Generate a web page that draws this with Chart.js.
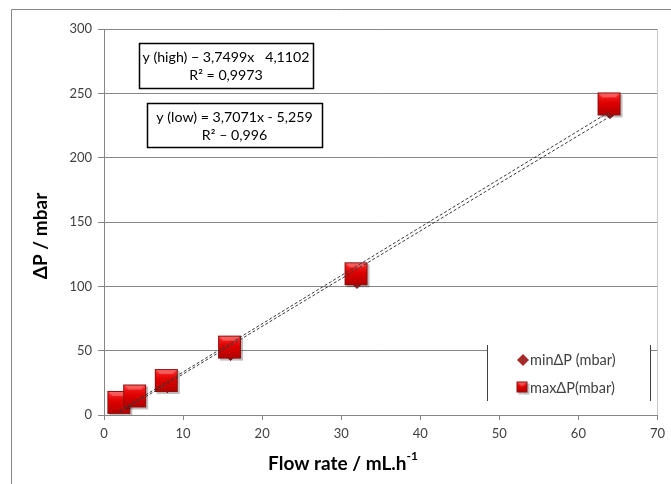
<!DOCTYPE html>
<html>
<head>
<meta charset="utf-8">
<script src="https://cdn.jsdelivr.net/npm/chart.js@4.4.1/dist/chart.umd.min.js"></script>
<style>
  html, body { margin: 0; padding: 0; background: #fff; }
  #wrap { width: 671px; height: 484px; position: relative; }
</style>
</head>
<body>
<div id="wrap"><canvas id="grafico" width="671" height="484"></canvas></div>
<script>
// datos
const caudales = [2, 4, 8, 16, 32, 64];
const minDeltaP = [7, 12, 22, 47, 103, 235];
const maxDeltaP = [9, 14, 26, 52, 109, 241];
const xTicks = [0, 10, 20, 30, 40, 50, 60, 70];
const yTicks = [0, 50, 100, 150, 200, 250, 300];

// ecuaciones de tendencia mostradas en el grafico
const tendAlta = { pendiente: 3.7499, ordenada: -4.1102 };
const tendBaja = { pendiente: 3.7071, ordenada: -5.259 };
const rangoTend = [2, 64];

const etiquetasCajas = [
  ['y (high) \u2212 3,7499x   4,1102', 'R\u00b2 = 0,9973'],
  ['y (low) = 3,7071x - 5,259', 'R\u00b2 \u2013 0,996']
];

const FUENTE = 'Lato, "Open Sans", sans-serif';
const GRIS = '#868686';
const TEXTO = '#404040';

// marcador cuadrado rojo con degradado y sombra (estilo Excel)
function crearCuadrado(lado) {
  const pad = 3;
  const c = document.createElement('canvas');
  c.width = lado + pad * 2; c.height = lado + pad * 2;
  const g = c.getContext('2d');
  const o = pad - 1;
  g.fillStyle = 'rgba(0,0,0,0.25)';
  g.fillRect(o + 2, o + 2, lado, lado);
  const grad = g.createLinearGradient(0, o, 0, o + lado);
  grad.addColorStop(0, '#ff3030');
  grad.addColorStop(0.45, '#e00000');
  grad.addColorStop(1, '#b00000');
  g.fillStyle = grad;
  g.fillRect(o, o, lado, lado);
  g.strokeStyle = '#8c1010';
  g.lineWidth = 1;
  g.strokeRect(o + 0.5, o + 0.5, lado - 1, lado - 1);
  g.fillStyle = 'rgba(255,255,255,0.25)';
  g.beginPath();
  g.moveTo(o + 1, o + 1); g.lineTo(o + lado - 1, o + 1);
  g.lineTo(o + lado - 5, o + 5); g.lineTo(o + 5, o + 5); g.closePath();
  g.fill();
  return c;
}
const cuadradoGrande = crearCuadrado(23);
const cuadradoChico = crearCuadrado(11);

function puntosTendencia(t) {
  return rangoTend.map(x => ({ x, y: t.pendiente * x + t.ordenada }));
}

const pluginDecoracion = {
  id: 'pluginDecoracion',
  beforeDraw(chart) {
    const { ctx } = chart;
    ctx.save();
    ctx.fillStyle = '#fff';
    ctx.fillRect(0, 0, chart.width, chart.height);
    ctx.strokeStyle = GRIS;
    ctx.lineWidth = 1;
    ctx.beginPath();
    ctx.moveTo(11.5, chart.height);
    ctx.lineTo(11.5, 9.5);
    ctx.lineTo(chart.width, 9.5);
    ctx.stroke();
    ctx.restore();
  },
  afterDatasetsDraw(chart) {
    const { ctx, chartArea: ca } = chart;
    ctx.save();
    // borde derecho del area
    ctx.strokeStyle = '#c8c8c8';
    ctx.beginPath();
    ctx.moveTo(Math.round(ca.right) + 0.5, ca.top);
    ctx.lineTo(Math.round(ca.right) + 0.5, ca.bottom);
    ctx.stroke();

    // cajas con ecuaciones
    const cajas = [
      { x: 139, y: 43, w: 174, h: 45 },
      { x: 147, y: 103, w: 175, h: 44 }
    ];
    ctx.font = '14.2px ' + FUENTE;
    ctx.textAlign = 'center';
    ctx.textBaseline = 'middle';
    cajas.forEach((c, i) => {
      ctx.fillStyle = '#fff';
      ctx.fillRect(c.x, c.y, c.w, c.h);
      ctx.strokeStyle = '#000';
      ctx.lineWidth = 1.5;
      ctx.strokeRect(c.x + 0.5, c.y + 0.5, c.w, c.h);
      ctx.fillStyle = '#000';
      ctx.fillText(etiquetasCajas[i][0], c.x + c.w / 2, c.y + 14);
      ctx.fillText(etiquetasCajas[i][1], c.x + c.w / 2, c.y + 32);
    });

    // leyenda
    const lx = 487, ly = 345, lw = 163, lh = 56;
    ctx.fillStyle = '#fff';
    ctx.fillRect(lx, ly, lw, lh);
    ctx.strokeStyle = '#404040';
    ctx.lineWidth = 1;
    ctx.beginPath();
    ctx.moveTo(lx + 0.5, ly); ctx.lineTo(lx + 0.5, ly + lh);
    ctx.moveTo(lx + lw + 0.5, ly); ctx.lineTo(lx + lw + 0.5, ly + lh);
    ctx.stroke();
    const series = chart.data.datasets
      .filter(d => d.enLeyenda)
      .sort((a, b) => a.ordenLeyenda - b.ordenLeyenda);
    ctx.font = '14.5px ' + FUENTE;
    ctx.textAlign = 'left';
    series.forEach((d, i) => {
      const my = 360 + i * 28;
      if (d.pointStyle === 'rectRot') {
        ctx.fillStyle = d.backgroundColor;
        ctx.beginPath();
        ctx.moveTo(523, my - 6); ctx.lineTo(529, my);
        ctx.lineTo(523, my + 6); ctx.lineTo(517, my); ctx.closePath();
        ctx.fill();
      } else {
        ctx.drawImage(cuadradoChico, 523 - cuadradoChico.width / 2, my - cuadradoChico.height / 2);
      }
      ctx.fillStyle = TEXTO;
      ctx.fillText(d.label, 530, my);
    });

    // titulos de ejes
    ctx.fillStyle = '#000';
    ctx.font = 'bold 19px ' + FUENTE;
    const base = 'Flow rate / mL.h';
    const sup = '-1';
    const wBase = ctx.measureText(base).width;
    ctx.font = 'bold 12px ' + FUENTE;
    const wSup = ctx.measureText(sup).width;
    const x0 = 343 - (wBase + wSup) / 2;
    ctx.font = 'bold 19px ' + FUENTE;
    ctx.fillText(base, x0, 464);
    ctx.font = 'bold 12px ' + FUENTE;
    ctx.fillText(sup, x0 + wBase, 456);

    ctx.translate(41, 236);
    ctx.rotate(-Math.PI / 2);
    ctx.textAlign = 'center';
    ctx.font = 'bold 19px ' + FUENTE;
    ctx.fillText('\u0394P / mbar', 0, 0);
    ctx.restore();
  }
};

function inicializarGrafico() {
  const ctx = document.getElementById('grafico').getContext('2d');
  new Chart(ctx, {
    type: 'scatter',
    data: {
      // el primer dataset queda encima: tendencias, luego maximos, luego minimos
      datasets: [
        {
          type: 'line',
          data: puntosTendencia(tendAlta),
          borderColor: '#383838',
          borderWidth: 1,
          borderDash: [3, 2],
          pointRadius: 0,
          fill: false
        },
        {
          type: 'line',
          data: puntosTendencia(tendBaja),
          borderColor: '#383838',
          borderWidth: 1,
          borderDash: [3, 2],
          pointRadius: 0,
          fill: false
        },
        {
          label: 'max\u0394P(mbar)',
          enLeyenda: true,
          ordenLeyenda: 1,
          data: caudales.map((x, i) => ({ x, y: maxDeltaP[i] })),
          pointStyle: cuadradoGrande,
          pointRadius: 12
        },
        {
          label: 'min\u0394P (mbar)',
          enLeyenda: true,
          ordenLeyenda: 0,
          data: caudales.map((x, i) => ({ x, y: minDeltaP[i] })),
          pointStyle: 'rectRot',
          pointRadius: 6,
          backgroundColor: '#a52a2a',
          borderColor: '#8b1a1a',
          borderWidth: 1
        }
      ]
    },
    options: {
      responsive: false,
      animation: false,
      layout: { padding: { top: 29, right: 11, left: 0, bottom: 0 } },
      plugins: { legend: { display: false }, tooltip: { enabled: false } },
      scales: {
        x: {
          type: 'linear',
          min: 0, max: 70,
          afterFit(s) { s.height = 69; },
          afterBuildTicks(s) { s.ticks = xTicks.map(v => ({ value: v })); },
          grid: { drawOnChartArea: false, drawTicks: true, tickLength: 5, color: GRIS },
          border: { color: GRIS },
          ticks: { color: TEXTO, font: { size: 13, family: FUENTE }, padding: 6 }
        },
        y: {
          type: 'linear',
          min: 0, max: 300,
          afterFit(s) { s.width = 104; },
          afterBuildTicks(s) { s.ticks = yTicks.map(v => ({ value: v })); },
          grid: { color: GRIS, tickLength: 6 },
          border: { color: GRIS },
          ticks: { color: TEXTO, font: { size: 13, family: FUENTE }, padding: 6 }
        }
      }
    },
    plugins: [pluginDecoracion]
  });
}

inicializarGrafico();
</script>
</body>
</html>
